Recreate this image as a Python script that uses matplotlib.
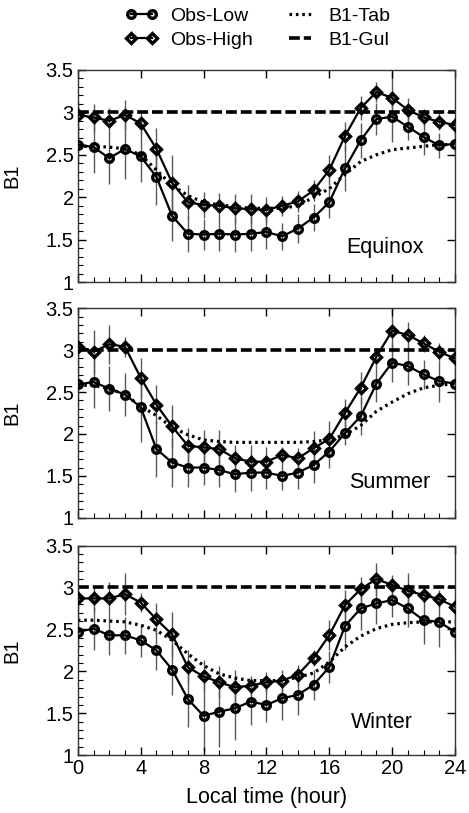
import matplotlib
matplotlib.use("Agg")
import matplotlib.pyplot as plt
import numpy as np
from matplotlib.ticker import MultipleLocator

plt.rcParams['font.family'] = ['Liberation Sans', 'DejaVu Sans']

hours = np.arange(25)
seasons = ['Equinox', 'Summer', 'Winter']

# Obs-High (diamonds)
high_equinox = [2.97, 2.94, 2.90, 2.97, 2.87, 2.57, 2.17, 1.94, 1.91, 1.90, 1.87, 1.86, 1.85,
                1.90, 1.95, 2.08, 2.32, 2.72, 3.05, 3.24, 3.17, 3.03, 2.94, 2.89, 2.85]
high_summer = [3.04, 2.98, 3.07, 3.04, 2.67, 2.35, 2.09, 1.86, 1.84, 1.82, 1.71, 1.67, 1.67,
               1.75, 1.71, 1.83, 1.94, 2.25, 2.55, 2.92, 3.23, 3.18, 3.08, 2.98, 2.90]
high_winter = [2.87, 2.87, 2.87, 2.92, 2.82, 2.62, 2.44, 2.05, 1.94, 1.87, 1.81, 1.83, 1.87,
               1.89, 1.96, 2.16, 2.43, 2.79, 2.98, 3.10, 3.03, 2.96, 2.91, 2.86, 2.77]

# Obs-Low (circles)
low_equinox = [2.62, 2.59, 2.46, 2.57, 2.48, 2.24, 1.78, 1.57, 1.56, 1.57, 1.56, 1.57, 1.59,
               1.54, 1.63, 1.76, 1.94, 2.34, 2.67, 2.92, 2.95, 2.83, 2.71, 2.61, 2.63]
low_summer = [2.59, 2.62, 2.54, 2.47, 2.32, 1.82, 1.66, 1.60, 1.60, 1.57, 1.52, 1.54, 1.54,
              1.50, 1.54, 1.63, 1.79, 2.01, 2.21, 2.60, 2.85, 2.81, 2.71, 2.63, 2.60]
low_winter = [2.47, 2.51, 2.43, 2.43, 2.37, 2.25, 2.02, 1.67, 1.47, 1.52, 1.56, 1.64, 1.60,
              1.68, 1.72, 1.84, 2.05, 2.54, 2.75, 2.81, 2.85, 2.75, 2.61, 2.59, 2.47]

# error bars
err_high_equinox = [0.15, 0.16, 0.15, 0.18, 0.12, 0.24, 0.33, 0.20, 0.15, 0.15, 0.17, 0.18, 0.15,
                    0.12, 0.12, 0.12, 0.18, 0.17, 0.14, 0.12, 0.30, 0.14, 0.10, 0.10, 0.10]
err_low_equinox = [0.22, 0.31, 0.30, 0.35, 0.30, 0.33, 0.30, 0.21, 0.18, 0.20, 0.20, 0.20, 0.20,
                   0.16, 0.17, 0.16, 0.19, 0.27, 0.21, 0.19, 0.30, 0.16, 0.21, 0.15, 0.15]
err_high_summer = [0.20, 0.26, 0.23, 0.12, 0.23, 0.23, 0.26, 0.21, 0.21, 0.23, 0.16, 0.20, 0.18,
                   0.10, 0.12, 0.20, 0.21, 0.17, 0.19, 0.10, 0.27, 0.16, 0.10, 0.10, 0.10]
err_low_summer = [0.25, 0.31, 0.27, 0.26, 0.41, 0.33, 0.29, 0.23, 0.21, 0.20, 0.21, 0.22, 0.20,
                  0.17, 0.20, 0.22, 0.20, 0.14, 0.22, 0.22, 0.23, 0.23, 0.17, 0.25, 0.20]
err_high_winter = [0.15, 0.16, 0.20, 0.25, 0.11, 0.19, 0.27, 0.20, 0.19, 0.19, 0.21, 0.11, 0.12,
                   0.13, 0.12, 0.09, 0.18, 0.18, 0.15, 0.19, 0.12, 0.21, 0.10, 0.11, 0.10]
err_low_winter = [0.20, 0.26, 0.24, 0.22, 0.20, 0.23, 0.30, 0.33, 0.41, 0.42, 0.38, 0.28, 0.20,
                  0.26, 0.24, 0.18, 0.19, 0.29, 0.26, 0.24, 0.20, 0.22, 0.28, 0.30, 0.20]

# B1-Tab (dotted)
tab_equinox = [2.60, 2.60, 2.59, 2.57, 2.50, 2.32, 2.14, 2.02, 1.94, 1.91, 1.89, 1.87, 1.87,
               1.87, 1.90, 2.00, 2.10, 2.27, 2.42, 2.50, 2.56, 2.58, 2.60, 2.62, 2.62]
tab_summer = [2.58, 2.58, 2.54, 2.47, 2.33, 2.22, 2.08, 1.99, 1.93, 1.91, 1.90, 1.90, 1.90,
              1.90, 1.90, 1.91, 1.93, 1.99, 2.10, 2.27, 2.38, 2.48, 2.55, 2.58, 2.60]
tab_winter = [2.61, 2.61, 2.60, 2.59, 2.55, 2.49, 2.37, 2.21, 2.07, 1.97, 1.92, 1.89, 1.89,
              1.89, 1.93, 1.98, 2.11, 2.29, 2.42, 2.51, 2.56, 2.58, 2.59, 2.59, 2.59]

# B1-Gul (dashed, constant)
gul_value = 3.0

high = [high_equinox, high_summer, high_winter]
low = [low_equinox, low_summer, low_winter]
err_high = [err_high_equinox, err_high_summer, err_high_winter]
err_low = [err_low_equinox, err_low_summer, err_low_winter]
tab = [tab_equinox, tab_summer, tab_winter]

fig = plt.figure(figsize=(4.69, 8.13), dpi=100)
left, width = 0.166, 0.804
boxes = [(0.653, 0.261), (0.363, 0.258), (0.071, 0.258)]
label_pos = [(0.815, 0.165), (0.828, 0.167), (0.806, 0.157)]

for i, season in enumerate(seasons):
    ax = fig.add_axes([left, boxes[i][0], width, boxes[i][1]])

    # error bars (thin grey verticals)
    ax.errorbar(hours, high[i], yerr=err_high[i], fmt='none', ecolor='0.35', elinewidth=1.0, zorder=1)
    ax.errorbar(hours, low[i], yerr=err_low[i], fmt='none', ecolor='0.35', elinewidth=1.0, zorder=1)

    ax.axhline(gul_value, color='black', lw=2.6, dashes=(3, 1.1), zorder=2, label='B1-Gul')
    ax.plot(hours, tab[i], color='black', lw=2.3, linestyle=(0, (0.8, 1.2)), zorder=2, label='B1-Tab')

    ax.plot(hours, low[i], color='black', lw=1.6, marker='o', ms=5.5, mfc='none', mec='black',
            mew=2.4, zorder=3, label='Obs-Low')
    ax.plot(hours, high[i], color='black', lw=1.6, marker='D', ms=5.0, mfc='none', mec='black',
            mew=2.4, zorder=3, label='Obs-High')

    ax.set_xlim(0, 24)
    ax.set_ylim(1, 3.5)
    ax.xaxis.set_major_locator(MultipleLocator(4))
    ax.xaxis.set_minor_locator(MultipleLocator(1))
    ax.yaxis.set_major_locator(MultipleLocator(0.5))
    ax.yaxis.set_minor_locator(MultipleLocator(0.1))
    ax.set_yticks([1, 1.5, 2, 2.5, 3, 3.5])
    ax.set_yticklabels(['1', '1.5', '2', '2.5', '3', '3.5'])
    ax.tick_params(which='major', direction='in', length=6, width=1, top=True, right=True,
                   labelsize=14.5, pad=3)
    ax.tick_params(which='minor', direction='in', length=3.5, width=0.8, top=False, right=False)
    for s in ax.spines.values():
        s.set_linewidth(1.0)
        s.set_color('0.2')
    ax.set_ylabel('B1', fontsize=14.5)
    ax.yaxis.set_label_coords(-0.15, 0.5)
    ax.text(label_pos[i][0], label_pos[i][1], season, transform=ax.transAxes,
            ha='center', va='center', fontsize=15.5)
    if i < 2:
        ax.tick_params(labelbottom=False)
    else:
        ax.set_xticks([0, 4, 8, 12, 16, 20, 24])
        ax.set_xticklabels(['0', '4', '8', '12', '16', '20', '24'])
        ax.set_xlabel('Local time (hour)', fontsize=15.5)
        ax.xaxis.set_label_coords(0.5, -0.15)
    if i == 0:
        handles, labels = ax.get_legend_handles_labels()
        order = [labels.index(n) for n in ['Obs-Low', 'Obs-High', 'B1-Tab', 'B1-Gul']]

fig.legend([handles[k] for k in order], [labels[k] for k in order], ncol=2,
           loc='upper left', bbox_to_anchor=(125 / 469, 1 - 7 / 813), frameon=False, fontsize=14,
           handlelength=1.7, handletextpad=0.6, columnspacing=1.6, labelspacing=0.35,
           borderpad=0, borderaxespad=0, numpoints=2)

fig.savefig('out.png', dpi=100)
